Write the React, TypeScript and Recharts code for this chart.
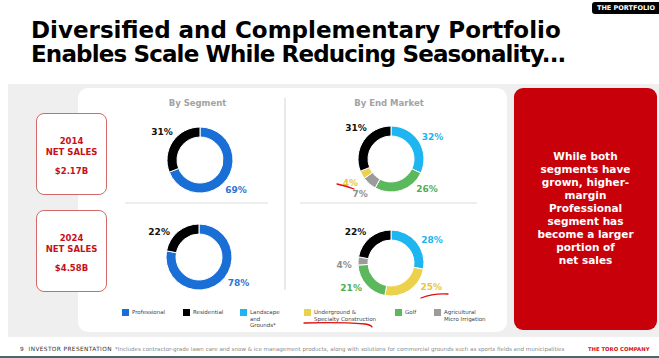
import { PieChart, Pie, Cell } from "recharts";

// By Segment
const segmentNames = ["Professional", "Residential"];
const segment2014 = [69, 31];
const segment2024 = [78, 22];

// By End Market (clockwise from 12 o'clock)
const endMarket2014Names = ["Landscape", "Golf", "Agricultural", "Underground", "Residential"];
const endMarket2014 = [32, 26, 7, 4, 31];
const endMarket2024Names = ["Landscape", "Underground", "Golf", "Agricultural", "Residential"];
const endMarket2024 = [28, 25, 21, 4, 22];

const yearLabels = ["2014", "2024"];
const netSales = ["$2.17B", "$4.58B"];

const legendKeys = ["Professional", "Residential", "Landscape", "Underground", "Golf", "Agricultural"];
const legendLabels = [
  ["Professional"],
  ["Residential"],
  ["Landscape", "and", "Grounds*"],
  ["Underground &", "Specialty Construction"],
  ["Golf"],
  ["Agricultural", "Micro Irrigation"],
];

const colors: Record<string, string> = {
  Professional: "#1a6fd6",
  Residential: "#000000",
  Landscape: "#1eb6f0",
  Underground: "#ecd14c",
  Golf: "#5cb85c",
  Agricultural: "#9b9b9b",
};
const labelColors: Record<string, string> = {
  Professional: "#2a74d4",
  Residential: "#111111",
  Landscape: "#1eb2ee",
  Underground: "#e8c63c",
  Golf: "#52ad52",
  Agricultural: "#8f8f8f",
};

// label angles, degrees clockwise from top
const labelAngles: Record<string, number[]> = {
  seg2014: [130, 306],
  seg2024: [123, 302],
  em2014: [62, 130, 221, 240, 312],
  em2024: [61, 121, 238, 267, 311],
};

const FONT = "'DejaVu Sans', Verdana, sans-serif";
const RED = "#c8000a";

function Donut({ names, values, cx, cy, angles }: { names: string[]; values: number[]; cx: number; cy: number; angles: number[] }) {
  const data = names.map((n, i) => ({ name: n, value: values[i] }));
  const renderLabel = (p: any) => {
    const a = ((angles[p.index] ?? 90 - p.midAngle) * Math.PI) / 180;
    const r = 47;
    const x = p.cx + r * Math.sin(a);
    const y = p.cy - r * Math.cos(a);
    return (
      <text x={x} y={y} textAnchor="middle" dominantBaseline="central" fontSize={9} fontWeight="bold" fontFamily={FONT} fill={labelColors[names[p.index]]}>
        {p.value}%
      </text>
    );
  };
  return (
    <div style={{ position: "absolute", left: cx - 70, top: cy - 55 }}>
      <PieChart width={140} height={110} margin={{ top: 0, right: 0, bottom: 0, left: 0 }}>
        <Pie
          data={data}
          dataKey="value"
          cx={70}
          cy={55}
          innerRadius={23}
          outerRadius={33}
          startAngle={90}
          endAngle={-270}
          stroke="#ffffff"
          strokeWidth={1}
          labelLine={false}
          label={renderLabel}
          isAnimationActive={false}
        >
          {data.map((d) => (
            <Cell key={d.name} fill={colors[d.name]} />
          ))}
        </Pie>
      </PieChart>
    </div>
  );
}

export default function App() {
  const legendX = [122, 183, 240, 304, 395, 434];
  return (
    <div style={{ position: "absolute", left: 0, top: 0, width: 659, height: 358, overflow: "hidden", background: "#ffffff", fontFamily: FONT }}>
      {/* title */}
      <div style={{ position: "absolute", left: 31, top: 18, fontSize: 23, fontWeight: "bold", lineHeight: "24px", color: "#000", whiteSpace: "nowrap" }}>
        <div>Diversified and Complementary Portfolio</div>
        <div style={{ letterSpacing: -0.85 }}>Enables Scale While Reducing Seasonality...</div>
      </div>
      <div style={{ position: "absolute", left: 592, top: 2, width: 80, height: 12, background: "#000", borderRadius: 3, color: "#fff", fontSize: 6.5, fontWeight: "bold", lineHeight: "12px", paddingLeft: 5, whiteSpace: "nowrap" }}>
        THE PORTFOLIO
      </div>

      {/* panels */}
      <div style={{ position: "absolute", left: 8, top: 84, width: 660, height: 253, background: "#efefef" }} />
      <div style={{ position: "absolute", left: 78, top: 88, width: 429, height: 244, background: "#ffffff", borderRadius: 10 }} />
      <div style={{ position: "absolute", left: 514, top: 88, width: 143, height: 242, background: RED, borderRadius: 9 }} />
      <div style={{ position: "absolute", left: 514, top: 150, width: 143, textAlign: "center", color: "#fff", fontSize: 10.5, fontWeight: "bold", lineHeight: "13px" }}>
        While both
        <br />
        segments have
        <br />
        grown, higher-
        <br />
        margin
        <br />
        Professional
        <br />
        segment has
        <br />
        become a larger
        <br />
        portion of
        <br />
        net sales
      </div>

      {/* year boxes */}
      {yearLabels.map((y, i) => (
        <div
          key={y}
          style={{
            position: "absolute",
            left: 36,
            top: i === 0 ? 113 : 210,
            width: 69,
            height: 80,
            border: "1.5px solid #cf6a68",
            borderRadius: 8,
            background: "#fff",
            color: "#c8101a",
            fontWeight: "bold",
            fontSize: 8.5,
            textAlign: "center",
          }}
        >
          <div style={{ marginTop: 22, lineHeight: "11px" }}>{y}</div>
          <div style={{ lineHeight: "11px" }}>NET SALES</div>
          <div style={{ marginTop: 8, lineHeight: "11px" }}>{netSales[i]}</div>
        </div>
      ))}

      {/* headings and dividers */}
      <div style={{ position: "absolute", left: 140, top: 98, width: 115, textAlign: "center", fontSize: 8.5, fontWeight: "bold", color: "#a3a3a3" }}>By Segment</div>
      <div style={{ position: "absolute", left: 330, top: 98, width: 118, textAlign: "center", fontSize: 8.5, fontWeight: "bold", color: "#a3a3a3" }}>By End Market</div>
      <div style={{ position: "absolute", left: 125, top: 202, width: 143, height: 2, background: "#eeeeee" }} />
      <div style={{ position: "absolute", left: 300, top: 202, width: 177, height: 2, background: "#eeeeee" }} />
      <div style={{ position: "absolute", left: 284, top: 98, width: 2, height: 192, background: "#eaeaea" }} />

      <Donut names={segmentNames} values={segment2014} cx={200} cy={160} angles={labelAngles.seg2014} />
      <Donut names={segmentNames} values={segment2024} cx={199} cy={257} angles={labelAngles.seg2024} />
      <Donut names={endMarket2014Names} values={endMarket2014} cx={391} cy={159} angles={labelAngles.em2014} />
      <Donut names={endMarket2024Names} values={endMarket2024} cx={391} cy={263} angles={labelAngles.em2024} />

      {/* legend */}
      {legendKeys.map((k, i) => (
        <div key={k} style={{ position: "absolute", left: legendX[i], top: 309 }}>
          <div style={{ position: "absolute", left: 0, top: 0, width: 7, height: 7, background: colors[k] }} />
          <div style={{ position: "absolute", left: 10, top: 0, fontSize: 5.5, lineHeight: "6.5px", color: "#444", whiteSpace: "nowrap" }}>
            {legendLabels[i].map((l) => (
              <div key={l}>{l}</div>
            ))}
          </div>
        </div>
      ))}

      {/* hand-drawn red marks */}
      <svg width={659} height={358} style={{ position: "absolute", left: 0, top: 0, pointerEvents: "none" }}>
        <path d="M337 184 Q346 186 354 189" stroke="#e01010" strokeWidth={1.3} fill="none" strokeLinecap="round" />
        <path d="M421 298 Q434 293 448 294" stroke="#e01010" strokeWidth={1.3} fill="none" strokeLinecap="round" />
        <path d="M304 323 Q340 322 365 324 Q371 325 372 327" stroke="#e01010" strokeWidth={1.3} fill="none" strokeLinecap="round" />
      </svg>

      {/* footer */}
      <div style={{ position: "absolute", left: 20, top: 346, fontSize: 5.8, letterSpacing: 0.4, color: "#333", whiteSpace: "nowrap" }}>
        9&nbsp;&nbsp;INVESTOR PRESENTATION
      </div>
      <div style={{ position: "absolute", left: 115, top: 346, fontSize: 5.55, color: "#8a8a8a", whiteSpace: "nowrap" }}>
        *Includes contractor-grade lawn care and snow &amp; ice management products, along with solutions for commercial grounds such as sports fields and municipalities
      </div>
      <div style={{ position: "absolute", left: 588, top: 346, fontSize: 5.3, fontWeight: "bold", color: "#d0101a", whiteSpace: "nowrap" }}>
        THE TORO COMPANY
      </div>
      <div style={{ position: "absolute", left: 0, top: 356, width: 659, height: 2, background: "#4a676d" }} />
    </div>
  );
}
